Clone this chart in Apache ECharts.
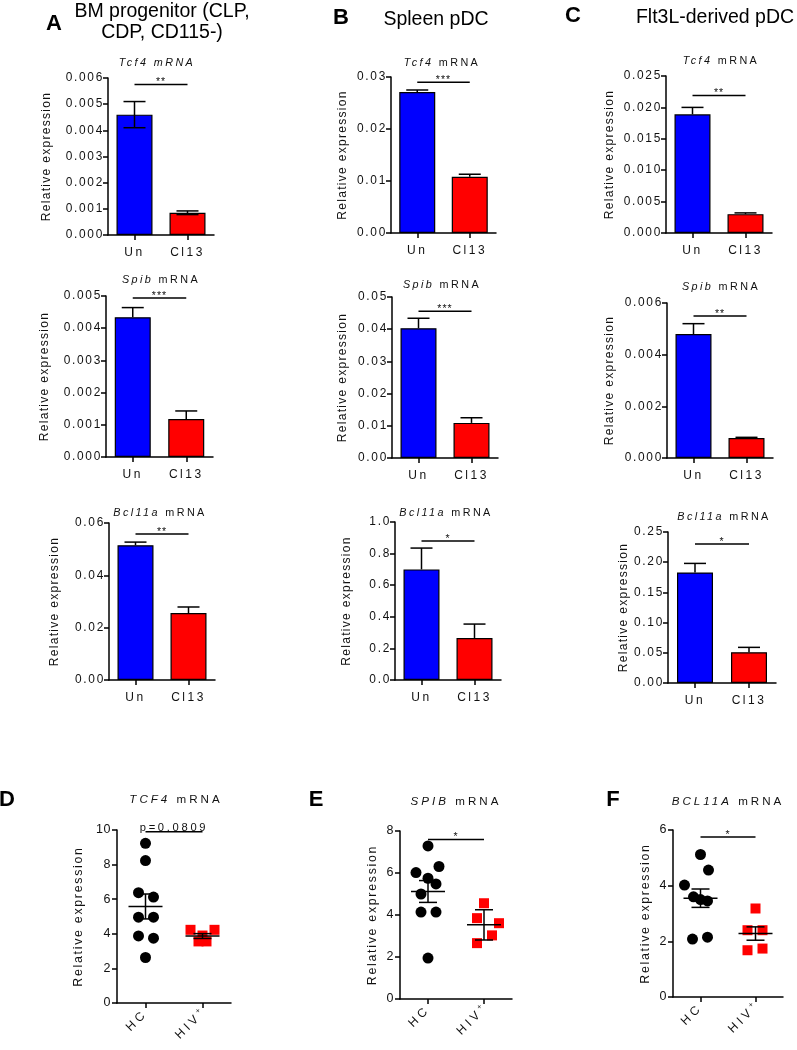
<!DOCTYPE html>
<html><head><meta charset="utf-8">
<script src="https://cdn.jsdelivr.net/npm/echarts@6/dist/echarts.min.js"></script>
<style>html,body{margin:0;padding:0;background:#fff}#c{width:797px;height:1050px}</style>
</head><body><div id="c"></div>
<script>
// ---------------- DATA ----------------
const barCategories = ['Un', 'Cl13'];
const hivCategories = ['HC', 'HIV+'];
const barGenes = ['Tcf4', 'Spib', 'Bcl11a'];
const humanGenes = ['TCF4', 'SPIB', 'BCL11A'];
const panelHeaders = [['BM progenitor (CLP,', 'CDP, CD115-)'], ['Spleen pDC'], ['Flt3L-derived pDC']];
const panelLetters = ['A', 'B', 'C', 'D', 'E', 'F'];

// Panel A: BM progenitor
const aTcf4Mean = [0.0046, 0.00085];
const aTcf4Sem = [0.0005, 0.00007];
const aSpibMean = [0.00434, 0.00118];
const aSpibSem = [0.0003, 0.00025];
const aBcl11aMean = [0.0515, 0.0256];
const aBcl11aSem = [0.0012, 0.0023];
// Panel B: Spleen pDC
const bTcf4Mean = [0.0271, 0.0108];
const bTcf4Sem = [0.0004, 0.0005];
const bSpibMean = [0.0403, 0.0109];
const bSpibSem = [0.0031, 0.0016];
const bBcl11aMean = [0.70, 0.266];
const bBcl11aSem = [0.135, 0.088];
// Panel C: Flt3L-derived pDC
const cTcf4Mean = [0.0189, 0.0030];
const cTcf4Sem = [0.0011, 0.0002];
const cSpibMean = [0.0048, 0.00077];
const cSpibSem = [0.0004, 0.00003];
const cBcl11aMean = [0.183, 0.051];
const cBcl11aSem = [0.015, 0.008];

// y-axis ticks (max, step, decimals) per bar chart [column][row]
const barYMax = [[0.006, 0.005, 0.06], [0.03, 0.05, 1.0], [0.025, 0.006, 0.25]];
const barYStep = [[0.001, 0.001, 0.02], [0.01, 0.01, 0.2], [0.005, 0.002, 0.05]];
const barYDecimals = [[3, 3, 2], [2, 2, 1], [3, 3, 2]];
const barSigText = [['**', '***', '**'], ['***', '***', '*'], ['**', '**', '*']];
const barSigLevel = [[0.00575, 0.00494, 0.0558], [0.029, 0.0456, 0.88], [0.0219, 0.0055, 0.23]];

// Panel D: TCF4
const dHC = [9.23, 8.23, 6.38, 6.12, 4.96, 4.96, 3.88, 3.75, 2.63];
const dHIV = [4.23, 4.23, 3.9, 3.56, 3.56];
const dMean = [5.58, 3.87];
const dSem = [0.72, 0.14];
// Panel E: SPIB
const eHC = [7.29, 6.31, 6.02, 5.75, 5.48, 5.0, 4.14, 4.14, 1.95];
const eHIV = [4.56, 3.85, 3.61, 3.03, 2.66];
const eMean = [5.12, 3.53];
const eSem = [0.52, 0.72];
// Panel F: BCL11A
const fHC = [5.12, 4.56, 4.02, 3.6, 3.5, 3.45, 2.08, 2.15];
const fHIV = [3.18, 2.4, 2.4, 1.68, 1.74];
const fMean = [3.55, 2.28];
const fSem = [0.33, 0.24];

const humanYMax = [10, 8, 6];
const humanYStep = [2, 2, 2];
const humanSigText = ['p=0.0809', '*', '*'];
const humanSigLevel = [9.9, 7.6, 5.75];

// ---------------- LAYOUT / STYLE ----------------
const FONT = '"Liberation Sans", Arial, Helvetica, sans-serif';
const BLUE = '#0000ff', RED = '#ff0000';

// GraphPad-style tracking: letter spacing (px) per font size (px)
const TRACKING = { 10.8: 2.4, 10.5: 1, 11.9: 1.7, 12.1: 1.25, 12: 2.5, 11.2: 2.7, 11.6: 3, 12.4: 1.7, 12.5: 0.5, 12.2: 3.5 };
(function () {
  const P = window.CanvasRenderingContext2D && CanvasRenderingContext2D.prototype;
  if (!P || !('letterSpacing' in P)) return;
  const sp = f => { const m = /(\d+(?:\.\d+)?)px/.exec(f || ''); return m ? (TRACKING[parseFloat(m[1])] || 0) : 0; };
  const ft = P.fillText, mt = P.measureText;
  P.fillText = function (t, x, y, w) {
    this.letterSpacing = sp(this.font) + 'px';
    return w === undefined ? ft.call(this, t, x, y) : ft.call(this, t, x, y, w);
  };
  P.measureText = function (t) {
    this.letterSpacing = sp(this.font) + 'px';
    return mt.call(this, t);
  };
})();

const barGrids = [
  [[108, 78, 106, 157], [106, 296, 107, 161], [109, 523, 106, 157]],
  [[391, 77, 105, 156], [392, 297, 106, 161], [395, 522, 106, 158]],
  [[666, 76, 106, 157], [667, 303, 106, 155], [668, 532, 108, 151]]
];
const barNameGap = [[55, 55, 48], [42, 43, 42], [50, 51, 34]];
const barTitlePos = [
  [[157, 63], [161, 280], [160, 513]],
  [[442, 63], [442, 285], [446, 513]],
  [[721, 61], [721, 287], [724, 517]]
];
const barMeans = [[aTcf4Mean, aSpibMean, aBcl11aMean], [bTcf4Mean, bSpibMean, bBcl11aMean], [cTcf4Mean, cSpibMean, cBcl11aMean]];
const barSems = [[aTcf4Sem, aSpibSem, aBcl11aSem], [bTcf4Sem, bSpibSem, bBcl11aSem], [cTcf4Sem, cSpibSem, cBcl11aSem]];

const humanGrids = [[117, 830, 114, 173], [400, 831, 112, 168], [673, 830, 110, 167]];
const humanNameGap = [32, 21, 21];
const humanTitlePos = [[176, 800], [456, 802], [728, 802]];
const humanHC = [dHC, eHC, fHC];
const humanHIV = [dHIV, eHIV, fHIV];
const humanMean = [dMean, eMean, fMean];
const humanSem = [dSem, eSem, fSem];
const hcJitter = [
  [0, 0, -7, 8, -7, 8, -7, 8, 0],
  [0, 11, -12, 0, 8, -7, -7, 8, 0],
  [0, 8, -16, -7, 0, 7, -8, 7]
];
const hivJitter = [
  [-12, 12, 0, -4, 4],
  [0, -7, 15, 8, -7],
  [0, -8, 7, -8, 7]
];

const option = {
  animation: false,
  backgroundColor: '#ffffff',
  grid: [], xAxis: [], yAxis: [], series: [], graphic: []
};

function axisCommon() {
  return {
    axisLine: { show: true, onZero: false, lineStyle: { color: '#000', width: 1.5 } },
    axisTick: { show: true, length: 5, lineStyle: { color: '#000', width: 1.5 } },
    splitLine: { show: false }
  };
}

function addGrid(g, cats, yMax, yStep, dec, nameGap, human) {
  const i = option.grid.length;
  option.grid.push({ left: g[0], top: g[1], width: g[2], height: g[3], containLabel: false, outerBoundsMode: 'none' });
  const xa = Object.assign(axisCommon(), {
    type: 'category', gridIndex: i, data: cats, boundaryGap: true
  });
  xa.axisTick.alignWithLabel = true;
  xa.axisLabel = {
    color: '#111', fontSize: human ? 12.2 : 12, fontFamily: FONT, margin: human ? 9 : 10, interval: 0, rotate: human ? 45 : 0,
    formatter: v => v === 'HIV+' ? 'HIV{s|+}' : v,
    rich: { s: { fontSize: 8, fontFamily: FONT, color: '#111', verticalAlign: 'top', padding: [0, 0, 6, 0] } }
  };
  option.xAxis.push(xa);
  const ya = Object.assign(axisCommon(), {
    type: 'value', gridIndex: i, min: 0, max: yMax, interval: yStep,
    name: 'Relative expression', nameLocation: 'middle', nameGap: nameGap, nameRotate: 90,
    nameTextStyle: { color: '#111', fontSize: human ? 12.4 : 12.1, fontFamily: FONT },
    axisLabel: { color: '#111', fontSize: human ? 12.5 : 11.9, fontFamily: FONT, margin: human ? 6 : 4, formatter: v => v.toFixed(dec) }
  });
  option.yAxis.push(ya);
  return i;
}

function sigSeries(i, level, text, fontSize, lift) {
  option.series.push({
    type: 'custom', xAxisIndex: i, yAxisIndex: i, z: 10, silent: true,
    data: [[0, level]],
    encode: { x: -1, y: 1 },
    renderItem: (params, api) => {
      const p0 = api.coord([0, api.value(1)]);
      const p1 = api.coord([1, api.value(1)]);
      return {
        type: 'group', children: [
          { type: 'line', shape: { x1: p0[0], y1: p0[1], x2: p1[0], y2: p1[1] }, style: { stroke: '#000', lineWidth: 1.5 } },
          { type: 'text', x: (p0[0] + p1[0]) / 2, y: p0[1] + lift,
            style: { text: text, fill: '#111', fontSize: fontSize, fontFamily: FONT, align: 'center', verticalAlign: 'bottom' } }
        ]
      };
    }
  });
}

function titleText(x, y, gene, allItalic, size) {
  option.graphic.push({
    type: 'text', x: x, y: y, silent: true,
    style: {
      text: allItalic ? '{i|' + gene + ' mRNA}' : '{i|' + gene + '} mRNA',
      fontSize: size, fontFamily: FONT, fill: '#111', align: 'center', verticalAlign: 'middle',
      rich: { i: { fontStyle: 'italic', fontSize: size, fontFamily: FONT, fill: '#111' } }
    }
  });
}

// ---- bar panels ----
for (let c = 0; c < 3; c++) {
  for (let r = 0; r < 3; r++) {
    const i = addGrid(barGrids[c][r], barCategories, barYMax[c][r], barYStep[c][r], barYDecimals[c][r], barNameGap[c][r], false);
    const mean = barMeans[c][r], sem = barSems[c][r];
    option.series.push({
      type: 'bar', xAxisIndex: i, yAxisIndex: i, barWidth: 36, z: 2,
      data: mean.map((m, k) => ({ value: m, itemStyle: { color: k === 0 ? BLUE : RED, borderColor: '#000', borderWidth: 1.2 } }))
    });
    const both = (c === 0 && r === 0);
    option.series.push({
      type: 'custom', xAxisIndex: i, yAxisIndex: i, z: 5, silent: true,
      data: mean.map((m, k) => [k, m, sem[k]]),
      encode: { x: 0, y: 1 },
      renderItem: (params, api) => {
        const k = api.value(0), m = api.value(1), s = api.value(2);
        const pm = api.coord([k, m]);
        const pt = api.coord([k, m + s]);
        const pb = api.coord([k, m - s]);
        const st = { stroke: '#000', lineWidth: 1.5 };
        const ch = [
          { type: 'line', shape: { x1: pt[0], y1: pt[1], x2: pm[0], y2: both ? pb[1] : pm[1] }, style: st },
          { type: 'line', shape: { x1: pt[0] - 11, y1: pt[1], x2: pt[0] + 11, y2: pt[1] }, style: st }
        ];
        if (both) ch.push({ type: 'line', shape: { x1: pb[0] - 11, y1: pb[1], x2: pb[0] + 11, y2: pb[1] }, style: st });
        return { type: 'group', children: ch };
      }
    });
    sigSeries(i, barSigLevel[c][r], barSigText[c][r], 10.5, 4);
    titleText(barTitlePos[c][r][0], barTitlePos[c][r][1], barGenes[r], c === 0 && r === 0, 10.8);
  }
}

// ---- human scatter panels ----
for (let h = 0; h < 3; h++) {
  const i = addGrid(humanGrids[h], hivCategories, humanYMax[h], humanYStep[h], 0, humanNameGap[h], true);
  option.series.push({
    type: 'scatter', xAxisIndex: i, yAxisIndex: i, symbol: 'circle', symbolSize: 11, z: 3,
    itemStyle: { color: '#000', opacity: 1 },
    data: humanHC[h].map((v, k) => ({ value: [0, v], symbolOffset: [hcJitter[h][k], 0] }))
  });
  option.series.push({
    type: 'scatter', xAxisIndex: i, yAxisIndex: i, symbol: 'rect', symbolSize: 10, z: 3,
    itemStyle: { color: RED, opacity: 1 },
    data: humanHIV[h].map((v, k) => ({ value: [1, v], symbolOffset: [hivJitter[h][k], 0] }))
  });
  const mean = humanMean[h], sem = humanSem[h];
  option.series.push({
    type: 'custom', xAxisIndex: i, yAxisIndex: i, z: 6, silent: true,
    data: mean.map((m, k) => [k, m, sem[k]]),
    encode: { x: 0, y: 1 },
    renderItem: (params, api) => {
      const k = api.value(0), m = api.value(1), s = api.value(2);
      const pm = api.coord([k, m]), pt = api.coord([k, m + s]), pb = api.coord([k, m - s]);
      const st = { stroke: '#000', lineWidth: 1.5 };
      return { type: 'group', children: [
        { type: 'line', shape: { x1: pm[0] - 17, y1: pm[1], x2: pm[0] + 17, y2: pm[1] }, style: st },
        { type: 'line', shape: { x1: pt[0], y1: pt[1], x2: pb[0], y2: pb[1] }, style: st },
        { type: 'line', shape: { x1: pt[0] - 9, y1: pt[1], x2: pt[0] + 9, y2: pt[1] }, style: st },
        { type: 'line', shape: { x1: pb[0] - 9, y1: pb[1], x2: pb[0] + 9, y2: pb[1] }, style: st }
      ] };
    }
  });
  sigSeries(i, humanSigLevel[h], humanSigText[h], h === 0 ? 11.2 : 10.5, h === 0 ? 3 : 4);
  titleText(humanTitlePos[h][0], humanTitlePos[h][1], humanGenes[h], false, 11.6);
}

// ---- panel headers ----
const letterPos = [[54, 24], [341, 18], [573, 16], [7, 800], [316, 800], [613, 800]];
panelLetters.forEach((L, k) => option.graphic.push({
  type: 'text', x: letterPos[k][0], y: letterPos[k][1], silent: true,
  style: { text: L, fontSize: 22, fontWeight: 'bold', fontFamily: FONT, fill: '#000', align: 'center', verticalAlign: 'middle' }
}));
const headerPos = [[162, [12, 33]], [436, [20]], [715, [18]]];
panelHeaders.forEach((lines, k) => lines.forEach((t, j) => option.graphic.push({
  type: 'text', x: headerPos[k][0], y: headerPos[k][1][j], silent: true,
  style: { text: t, fontSize: 19.5, fontFamily: FONT, fill: '#000', align: 'center', verticalAlign: 'middle' }
})));

const chart = echarts.init(document.getElementById('c'), null, { renderer: 'canvas', width: 797, height: 1050 });
chart.setOption(option);
</script>
</body></html>
